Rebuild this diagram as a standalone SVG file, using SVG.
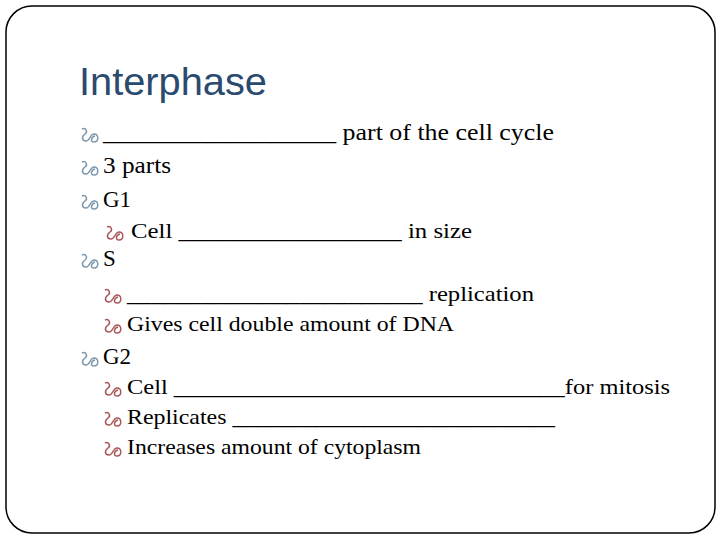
<svg xmlns="http://www.w3.org/2000/svg" width="720" height="540" viewBox="0 0 720 540">
<style>
.t{fill:#000;font-family:'Liberation Serif','Times New Roman',serif}
.l1{font-size:23px}
.l2{font-size:21px}
.b1{fill:none;stroke:#7d97ad;stroke-width:1.5}
.b2{fill:none;stroke:#a85858;stroke-width:1.5}
</style>
<defs>
<path id="curl" d="M0,-8 C4,-10 6,-5 3,-3 C-1,0 0,4 4,4 C8,4 8,-3 12,-3 C17,-3 17,5 12,5 C8,5 9,0 13,-1"/>
</defs>
<rect width="720" height="540" fill="#fff"/>
<rect x="6" y="6" width="709" height="527" rx="26" fill="#fff" stroke="#000" stroke-width="1.5"/>
<text x="79" y="95" font-family="'Liberation Sans',Arial,sans-serif" font-size="38" fill="#2a4a6e" textLength="188" lengthAdjust="spacingAndGlyphs">Interphase</text>
<g id="bullets1">
<use href="#curl" x="82" y="137" class="b1"/>
<use href="#curl" x="82" y="170" class="b1"/>
<use href="#curl" x="82" y="204" class="b1"/>
<use href="#curl" x="82" y="263" class="b1"/>
<use href="#curl" x="82" y="361" class="b1"/>
</g>
<g id="bullets2">
<use href="#curl" x="107" y="235" class="b2"/>
<use href="#curl" x="105" y="298" class="b2"/>
<use href="#curl" x="105" y="328" class="b2"/>
<use href="#curl" x="105" y="391" class="b2"/>
<use href="#curl" x="105" y="421" class="b2"/>
<use href="#curl" x="105" y="451" class="b2"/>
</g>
<g id="text">
<text class="t l1" x="103" y="140" textLength="451" lengthAdjust="spacingAndGlyphs">__________________ part of the cell cycle</text>
<text class="t l1" x="103" y="173" textLength="68" lengthAdjust="spacingAndGlyphs">3 parts</text>
<text class="t l1" x="103" y="207">G1</text>
<text class="t l2" x="131" y="238" textLength="341" lengthAdjust="spacingAndGlyphs">Cell __________________ in size</text>
<text class="t l1" x="103" y="266">S</text>
<text class="t l2" x="127" y="301" textLength="407" lengthAdjust="spacingAndGlyphs">________________________ replication</text>
<text class="t l2" x="127" y="331" textLength="327" lengthAdjust="spacingAndGlyphs">Gives cell double amount of DNA</text>
<text class="t l1" x="103" y="364">G2</text>
<text class="t l2" x="127" y="394" textLength="543" lengthAdjust="spacingAndGlyphs">Cell ________________________________for mitosis</text>
<text class="t l2" x="127" y="424" textLength="428" lengthAdjust="spacingAndGlyphs">Replicates ___________________________</text>
<text class="t l2" x="127" y="454" textLength="294" lengthAdjust="spacingAndGlyphs">Increases amount of cytoplasm</text>
</g>
</svg>
